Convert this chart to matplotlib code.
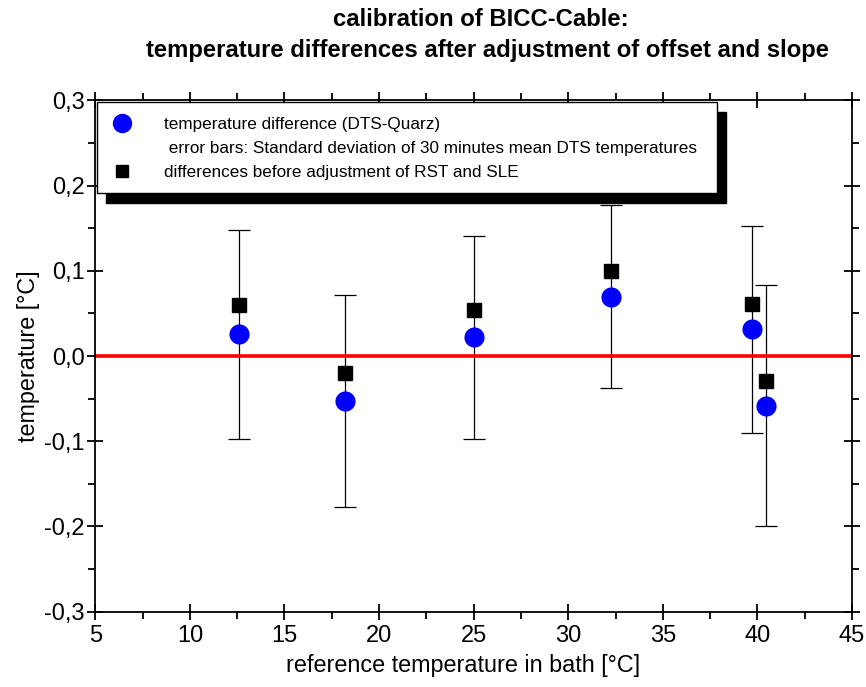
import matplotlib
matplotlib.use("Agg")
import matplotlib.pyplot as plt
from matplotlib.lines import Line2D
from matplotlib.patches import Rectangle
from matplotlib.ticker import MultipleLocator, FuncFormatter

plt.rcParams['font.family'] = ['Liberation Sans', 'DejaVu Sans']

# data
ref_temp = [12.62, 18.21, 25.04, 32.27, 39.73, 40.45]
diff_after = [0.0254, -0.0530, 0.0221, 0.0698, 0.0315, -0.0583]
std_dev = [0.1228, 0.1246, 0.1191, 0.1074, 0.1215, 0.1413]
diff_before = [0.0602, -0.0196, 0.0543, 0.1001, 0.0607, -0.0297]

title_line1 = "calibration of BICC-Cable:"
title_line2 = "temperature differences after adjustment of offset and slope"
xlabel = "reference temperature in bath [°C]"
ylabel = "temperature [°C]"
legend_labels = ["temperature difference (DTS-Quarz)",
                 " error bars: Standard deviation of 30 minutes mean DTS temperatures",
                 "differences before adjustment of RST and SLE"]

W, H = 866, 687
fig = plt.figure(figsize=(W / 100, H / 100), dpi=100)
ax = fig.add_axes([95.3 / W, 1 - 611.6 / H, (852 - 95.3) / W, (611.6 - 100.4) / H])

ax.errorbar(ref_temp, diff_after, yerr=std_dev, fmt='none', ecolor='black',
            elinewidth=0.9, capsize=8, capthick=0.9, zorder=2)
ax.axhline(0, color='#ff0000', lw=2.6, zorder=2.5)
ax.plot(ref_temp, diff_before, ls='none', marker='s', ms=9.5, color='black', zorder=3)
ax.plot(ref_temp, diff_after, ls='none', marker='o', ms=14.5, color='#0000ff',
        markeredgewidth=0, zorder=4)

ax.set_xlim(5, 45)
ax.set_ylim(-0.3, 0.3)
ax.xaxis.set_major_locator(MultipleLocator(5))
ax.xaxis.set_minor_locator(MultipleLocator(2.5))
ax.yaxis.set_major_locator(MultipleLocator(0.1))
ax.yaxis.set_minor_locator(MultipleLocator(0.05))
ax.yaxis.set_major_formatter(FuncFormatter(lambda v, p: f"{round(v, 2) + 0:.1f}".replace('.', ',')))
ax.xaxis.set_major_formatter(FuncFormatter(lambda v, p: f"{v:.0f}"))

for s in ax.spines.values():
    s.set_linewidth(1.3)
ax.tick_params(which='major', direction='inout', length=11, width=1.3,
               labelsize=17, top=True, right=True)
ax.tick_params(which='minor', direction='out', length=5, width=1.3,
               top=True, right=True)
ax.tick_params(axis='x', which='major', pad=4)
ax.tick_params(axis='y', which='major', pad=2)

ax.set_xlabel(xlabel, fontsize=16.8, labelpad=3)
ax.xaxis.set_label_coords((463.5 - 95.3) / (852 - 95.3), -0.083)
ax.set_ylabel(ylabel, fontsize=16.8, labelpad=3)

fig.text(481 / W, 1 - 20 / H, title_line1, ha='center', va='center',
         fontsize=17.2, fontweight='bold')
fig.text(487 / W, 1 - 50 / H, title_line2, ha='center', va='center',
         fontsize=17.2, fontweight='bold')

# legend box with shadow
axw, axh = 852 - 95.3, 611.6 - 100.4
def ax_xy(px, py):
    return (px - 95.3) / axw, (611.6 - py) / axh

bx0, by0 = ax_xy(97, 193)
bx1, by1 = ax_xy(717, 102)
sx0, sy0 = ax_xy(106, 203)
sx1, sy1 = ax_xy(726, 112)
ax.add_patch(Rectangle((sx0, sy0), sx1 - sx0, sy1 - sy0, transform=ax.transAxes,
                       facecolor='black', edgecolor='black', zorder=5, clip_on=False))
ax.add_patch(Rectangle((bx0, by0), bx1 - bx0, by1 - by0, transform=ax.transAxes,
                       facecolor='white', edgecolor='black', lw=1.0, zorder=6, clip_on=False))

handles = [Line2D([], [], ls='none', marker='o', ms=14, color='#0000ff', markeredgewidth=0),
           Line2D([], [], ls='none'),
           Line2D([], [], ls='none', marker='s', ms=8.5, color='black')]
lx, ly = ax_xy(108, 117)
leg = ax.legend(handles, legend_labels, loc='upper left', bbox_to_anchor=(lx, ly),
                frameon=False, fontsize=12.3, borderaxespad=0, borderpad=0,
                handlelength=1.6, handletextpad=1.7, labelspacing=0.52)
leg.set_zorder(7)

fig.savefig("out.png", dpi=100)
